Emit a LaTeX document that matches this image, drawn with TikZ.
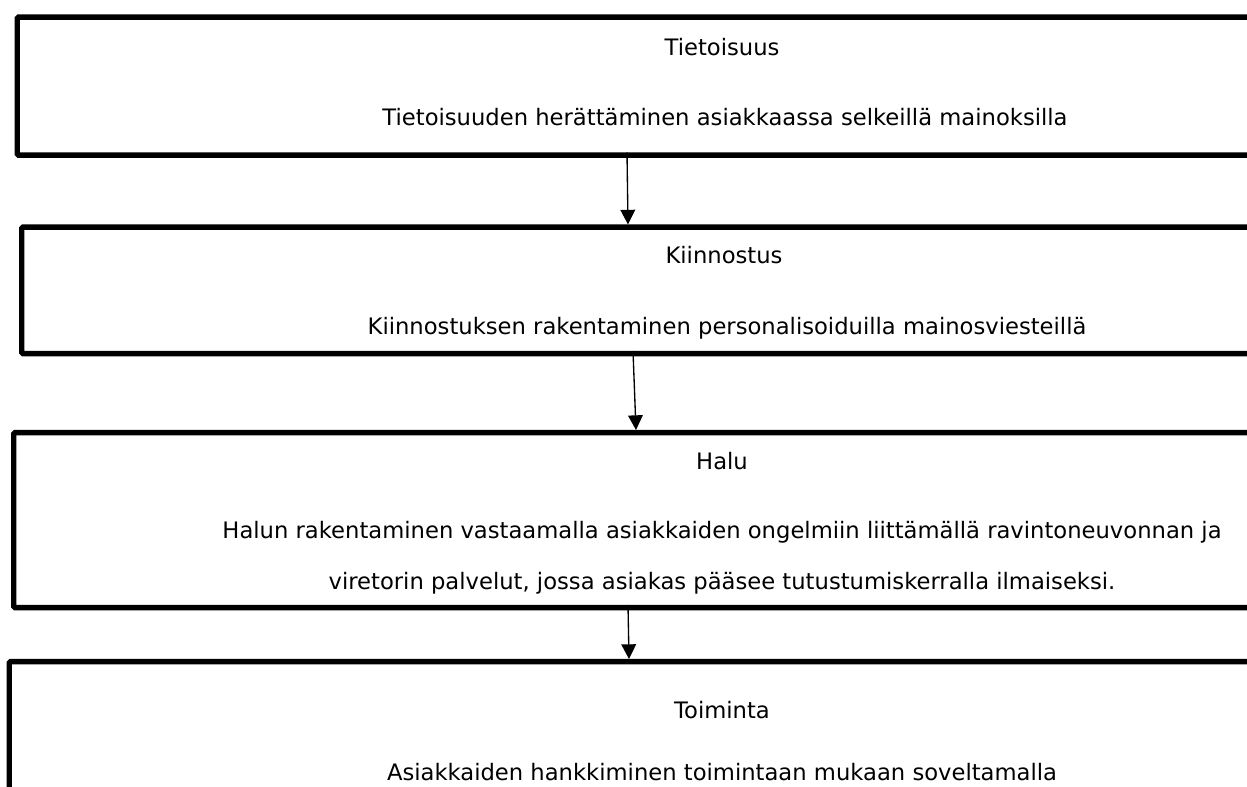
\documentclass[tikz,border=0pt]{standalone}
\usepackage{fontspec}
\setmainfont{DejaVu Sans}
\usetikzlibrary{arrows.meta}
\begin{document}
\begin{tikzpicture}[x=0.75pt,y=-0.75pt,
  stagebox/.style={draw=black, line width=4pt, rectangle, anchor=north west, inner sep=0pt, rounded corners=1pt, minimum width=1415*0.75pt},
  lbl/.style={font=\fontsize{17}{20}\selectfont, inner sep=0pt, anchor=base},
  flow/.style={-{Triangle[width=11pt,length=11pt]}, line width=1pt}]
\useasboundingbox (0,0) rectangle (1247,787);
\clip (0,0) rectangle (1247,787);
\fill[white] (0,0) rectangle (1247,787);
% boxes
\node[stagebox, minimum height=138*0.75pt] (b1) at (14.5,14.5) {};
\node[stagebox, minimum height=126.5*0.75pt] (b2) at (19,224.5) {};
\node[stagebox, minimum height=175*0.75pt] (b3) at (11,430) {};
\node[stagebox, minimum height=200*0.75pt] (b4) at (6.5,659) {};
% texts
\node[lbl] (t1) at (722,56) {Tietoisuus};
\node[lbl] (d1) at (725,126) {Tietoisuuden herättäminen asiakkaassa selkeillä mainoksilla};
\node[lbl] (t2) at (724,264) {Kiinnostus};
\node[lbl] (d2) at (727,335) {Kiinnostuksen rakentaminen personalisoiduilla mainosviesteillä};
\node[lbl] (t3) at (722,470) {Halu};
\node[lbl] (d3a) at (722,539) {Halun rakentaminen vastaamalla asiakkaiden ongelmiin liittämällä ravintoneuvonnan ja};
\node[lbl] (d3b) at (722,590) {viretorin palvelut, jossa asiakas pääsee tutustumiskerralla ilmaiseksi.};
\node[lbl] (t4) at (722,719) {Toiminta};
\node[lbl] (d4) at (722,781) {Asiakkaiden hankkiminen toimintaan mukaan soveltamalla};
% connector end points
\coordinate (a1s) at (627,152.5);
\coordinate (a1e) at (628,224.5);
\coordinate (a2s) at (633,351);
\coordinate (a2e) at (636,430);
\coordinate (a3s) at (628,605);
\coordinate (a3e) at (629,659);
\draw[flow] (a1s) -- (a1e);
\draw[flow] (a2s) -- (a2e);
\draw[flow] (a3s) -- (a3e);
\end{tikzpicture}
\end{document}
